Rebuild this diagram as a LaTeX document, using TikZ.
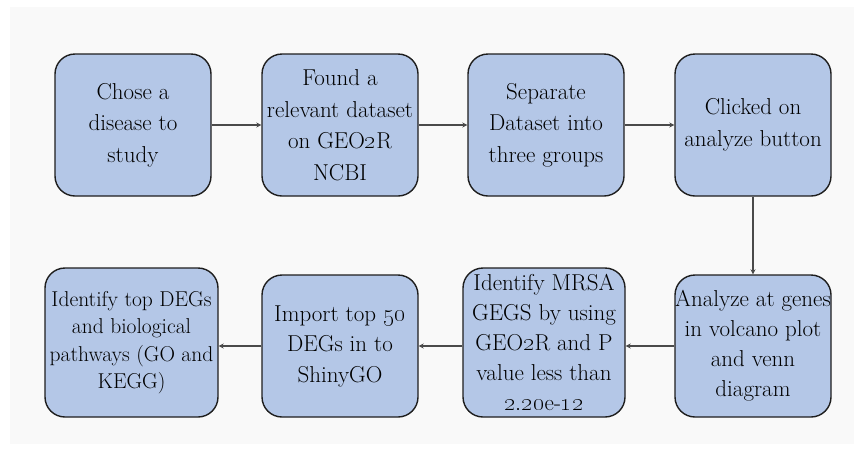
\documentclass[tikz,border=0pt]{standalone}
\usetikzlibrary{arrows.meta}
\definecolor{boxfill}{HTML}{B4C7E7}
\definecolor{boxline}{HTML}{1E1E1E}
\definecolor{arrline}{HTML}{4A4A4A}
\definecolor{bggray}{HTML}{F9F9F9}
\tikzset{
  stepbox/.style={draw=boxline, line width=1.4pt, fill=boxfill, rounded corners=20pt,
    align=center, inner sep=0pt, text=black,
    font=\fontsize{23}{31.5}\selectfont},
  arr/.style={draw=arrline, line width=1.6pt, -{Stealth[length=5pt,width=5pt]}}
}
\begin{document}
\begin{tikzpicture}[x=1pt,y=-1pt]
\useasboundingbox (0,0) rectangle (854,451);
\fill[white] (0,0) rectangle (854,451);
\fill[bggray] (10,7) rectangle (854,444);
% top row
\node[stepbox, minimum width=156pt, minimum height=142pt] (b1) at (133,125) {Chose a\\disease to\\study};
\node[stepbox, minimum width=156pt, minimum height=142pt] (b2) at (340,125) {Found a\\relevant dataset\\on GEO\oldstylenums{2}R\\NCBI};
\node[stepbox, minimum width=156pt, minimum height=142pt] (b3) at (546,125) {Separate\\Dataset into\\three groups};
\node[stepbox, minimum width=156pt, minimum height=142pt] (b4) at (753,125) {Clicked on\\analyze button};
% bottom row
\node[stepbox, minimum width=156pt, minimum height=142pt, font=\fontsize{23}{30}\selectfont] (c4) at (753,346) {Analyze at genes\\in volcano plot\\and venn\\diagram};
\node[stepbox, minimum width=162pt, minimum height=149pt, font=\fontsize{23}{30}\selectfont] (c3) at (544,342.5) {Identify MRSA\\GEGS by using\\GEO\oldstylenums{2}R and P\\value less than\\\oldstylenums{2.20}e-\oldstylenums{12}};
\node[stepbox, minimum width=156pt, minimum height=142pt, font=\fontsize{23}{30.5}\selectfont] (c2) at (340,346) {Import top \oldstylenums{50}\\DEGs in to\\ShinyGO};
\node[stepbox, minimum width=173pt, minimum height=149pt, font=\fontsize{21.5}{27.5}\selectfont] (c1) at (131.5,342.5) {Identify top DEGs\\and biological\\pathways (GO and\\KEGG)};
% connectors
\draw[arr] (b1.east) -- (b2.west);
\draw[arr] (b2.east) -- (b3.west);
\draw[arr] (b3.east) -- (b4.west);
\draw[arr] (b4.south) -- (c4.north);
\draw[arr] (c4.west) -- (c3.east |- c4.west);
\draw[arr] (c3.west |- c2.east) -- (c2.east);
\draw[arr] (c2.west) -- (c1.east |- c2.west);
\end{tikzpicture}
\end{document}
